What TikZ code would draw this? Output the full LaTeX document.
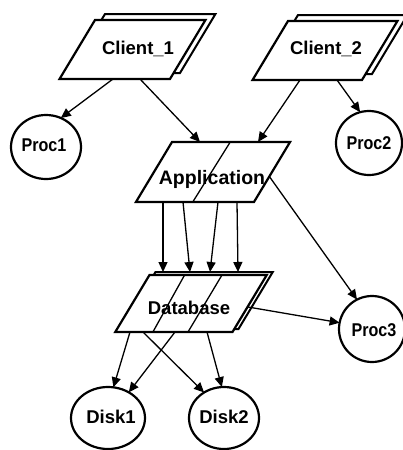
\documentclass[tikz,border=0pt]{standalone}
\usepackage{fontspec}
\setmainfont{Liberation Sans}
\usetikzlibrary{shapes.geometric,shadows,arrows.meta,calc}
\newcommand\mylbl[3]{\raisebox{#2}[0pt][0pt]{\makebox[0pt]{\kern#1\kern#1\relax#3}}}
\begin{document}
\begin{tikzpicture}[x=1pt,y=-1pt,
  lab/.style={font=\fontsize{18.5}{20}\selectfont\bfseries},
  para/.style={shape=trapezium, trapezium left angle=59, trapezium right angle=121,
    draw, line width=2.2pt, fill=white, outer sep=0pt, lab},
  oval/.style={shape=ellipse, draw, line width=2.2pt, fill=white, inner sep=0pt, outer sep=0pt, lab},
  conn/.style={line width=1.3pt, -{Triangle[length=10pt,width=9pt]}},
  divider/.style={line width=1.3pt},
]
\useasboundingbox (0,0) rectangle (403,450);

\node[para, inner xsep=37.5pt, inner ysep=29.5pt,
  copy shadow={shadow xshift=10pt, shadow yshift=6pt, fill=white, draw=black, line width=2pt}]
  (c1) at (132.5,49.5) {\mylbl{5.5pt}{-5.2pt}{Client\_1}};
\node[para, inner xsep=37pt, inner ysep=29.5pt,
  copy shadow={shadow xshift=10pt, shadow yshift=6pt, fill=white, draw=black, line width=2pt}]
  (c2) at (325,50.5) {\mylbl{1pt}{-4.2pt}{Client\_2}};
\node[para, inner xsep=41pt, inner ysep=30pt,
  path picture={\draw[divider] ($(path picture bounding box.center)+(18.5,-32)$) -- ($(path picture bounding box.center)+(-21.5,32)$);}]
  (app) at (213,172) {\mylbl{-1pt}{-12.7pt}{\fontsize{19.5}{20}\selectfont Application}};
\node[para, inner xsep=41.5pt, inner ysep=28.5pt,
  copy shadow={shadow xshift=6pt, shadow yshift=3pt, fill=white, draw=black, line width=2pt},
  path picture={
    \draw[divider] ($(path picture bounding box.center)+(-5,-31)$) -- ($(path picture bounding box.center)+(-39.5,31)$);
    \draw[divider] ($(path picture bounding box.center)+(32.5,-31)$) -- ($(path picture bounding box.center)+(-4.5,31)$);}]
  (db) at (191,303.5) {\mylbl{-2pt}{-11.2pt}{Database}};

\node[oval, minimum width=70pt, minimum height=64pt] (p1) at (46,147) {\mylbl{-2pt}{-4.7pt}{\scalebox{0.87}[1]{Proc1}}};
\node[oval, minimum width=66pt, minimum height=64pt] (p2) at (369,143) {\mylbl{0pt}{-6.7pt}{\scalebox{0.87}[1]{Proc2}}};
\node[oval, minimum width=66pt, minimum height=66pt] (p3) at (372,329) {\mylbl{2pt}{-7.7pt}{\scalebox{0.87}[1]{Proc3}}};
\node[oval, minimum width=74pt, minimum height=62pt] (d1) at (108,418) {\mylbl{3pt}{-5.7pt}{Disk1}};
\node[oval, minimum width=70pt, minimum height=62pt] (d2) at (224,418) {\mylbl{0pt}{-5.7pt}{Disk2}};

\draw[conn] ($(c1.center)+(-19.5,29.5)$) -- (p1.63);
\draw[conn] ($(c1.center)+(7.5,29.5)$) -- ($(app.center)+(-13,-30)$);
\draw[conn] ($(c2.center)+(-25,29.5)$) -- ($(app.center)+(45,-30)$);
\draw[conn] ($(c2.center)+(12,29.5)$) -- (p2.106);
\foreach \a/\b in {-50/-28,-30/-1,5/19,24/47}
  \draw[conn] ($(app.center)+(\a,30)$) -- ($(db.center)+(\b,-31.5)$);
\draw[conn] ($(app.center)+(56,4)$) -- (p3.117);
\draw[conn] ($(db.center)+(57,3.5)$) -- (p3.169);
\draw[conn] ($(db.center)+(-61,28.5)$) -- (d1.80);
\draw[conn] ($(db.center)+(-16,28.5)$) -- (d1.51);
\draw[conn] ($(db.center)+(-48,28.5)$) -- (d2.128);
\draw[conn] ($(db.center)+(16,28.5)$) -- (d2.94);
\end{tikzpicture}
\end{document}
